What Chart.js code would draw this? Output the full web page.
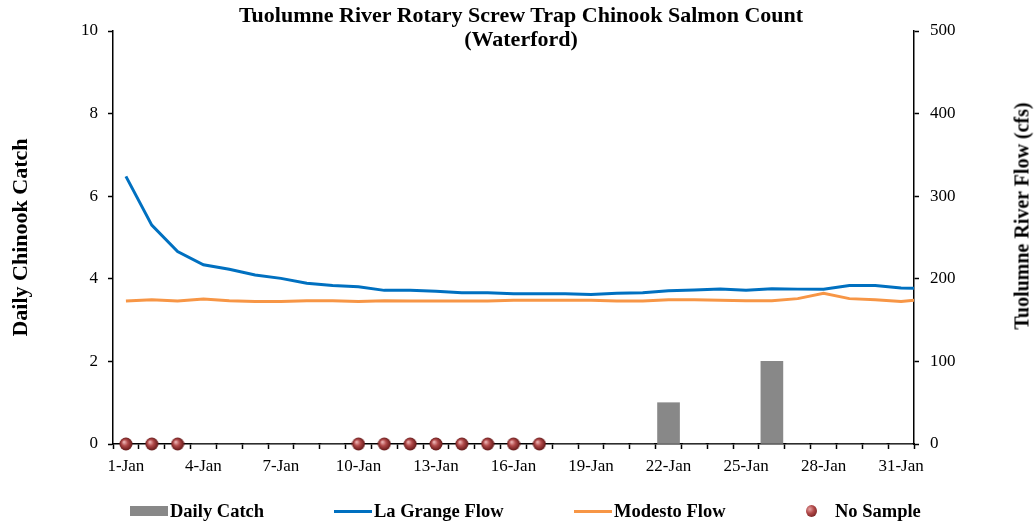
<!DOCTYPE html>
<html>
<head>
<meta charset="utf-8">
<script src="https://cdn.jsdelivr.net/npm/chart.js@4.4.1/dist/chart.umd.min.js"></script>
<style>
  body { margin: 0; background: #fff; }
  #contenedor { position: relative; width: 1036px; height: 522px; font-family: "Liberation Serif", "Times New Roman", serif; color: #000; }
  #titulo { position: absolute; left: 521px; top: 3px; transform: translateX(-50%); text-align: center; font-weight: bold; font-size: 22px; line-height: 24px; white-space: nowrap; }
  #tituloDer { position: absolute; left: 1022px; top: 216px; transform: translate(-50%, -50%) rotate(-90deg); font-weight: bold; font-size: 20px; white-space: nowrap; }
  .ley { position: absolute; top: 501px; height: 20px; display: flex; align-items: center; font-weight: bold; font-size: 18.5px; line-height: 20px; white-space: nowrap; }
  .caja { width: 38px; height: 10px; background: #888; margin-right: 2px; }
  .linea { width: 38px; height: 3px; margin-right: 2px; }
  .punto { width: 11px; height: 12px; border-radius: 50%; margin-right: 18px;
           background: radial-gradient(circle at 35% 35%, #e6a3a3 0%, #b04848 40%, #5c1414 100%); }
</style>
</head>
<body>
<div id="contenedor">
  <canvas id="graficaSalmon" width="1036" height="522"></canvas>
  <div id="titulo">Tuolumne River Rotary Screw Trap Chinook Salmon Count<br>(Waterford)</div>
  <div id="tituloDer">Tuolumne River Flow (cfs)</div>
  <div class="ley" style="left:130px"><span class="caja"></span>Daily Catch</div>
  <div class="ley" style="left:334px"><span class="linea" style="background:#0070C0"></span>La Grange Flow</div>
  <div class="ley" style="left:574px"><span class="linea" style="background:#F79646"></span>Modesto Flow</div>
  <div class="ley" style="left:806px"><span class="punto"></span>No Sample</div>
</div>
<script>
// Fechas del eje (categorias)
const fechas = ['1-Jan','2-Jan','3-Jan','4-Jan','5-Jan','6-Jan','7-Jan','8-Jan','9-Jan','10-Jan',
  '11-Jan','12-Jan','13-Jan','14-Jan','15-Jan','16-Jan','17-Jan','18-Jan','19-Jan','20-Jan',
  '21-Jan','22-Jan','23-Jan','24-Jan','25-Jan','26-Jan','27-Jan','28-Jan','29-Jan','30-Jan',
  '31-Jan'];
const etiquetasEje = ['1-Jan','4-Jan','7-Jan','10-Jan','13-Jan','16-Jan','19-Jan','22-Jan','25-Jan','28-Jan','31-Jan'];

// Captura diaria (null = sin muestra)
const capturaDiaria = [null, null, null, 0, 0, 0, 0, 0, 0, null,
  null, null, null, null, null, null, null, 0, 0, 0,
  0, 1, 0, 0, 0, 2, 0, 0, 0, 0, 0];

// Dias sin muestra (marcador en cero)
const sinMuestra = [0, 0, 0, null, null, null, null, null, null, 0,
  0, 0, 0, 0, 0, 0, 0, null, null, null,
  null, null, null, null, null, null, null, null, null, null, null];

// Flujos (cfs), dia 1 a 32 (el 1-Feb queda cortado en el borde derecho)
const flujoLaGrange = [324, 265, 233, 217, 211.5, 204.5, 200.5, 194.5, 192, 190.5,
  186, 186, 185, 183, 183, 182, 182, 182, 181, 182.5,
  183, 185.5, 186.5, 187.5, 186, 188, 187.5, 187.5, 192, 192,
  189, 188];
const flujoModesto = [173, 174.5, 173, 175.5, 173.5, 172.5, 172.5, 173.5, 173.5, 172.5,
  173.5, 173, 173, 173, 173, 174, 174, 174, 174, 173,
  173, 174.5, 174.5, 174, 173.5, 173.5, 176, 182.5, 176, 174.5,
  172.5, 175.5];

const fuente = '"Liberation Serif", "Times New Roman", serif';

// Marcador con sombreado tipo Excel
const marcador = document.createElement('canvas');
marcador.width = 14;
marcador.height = 14;
const mctx = marcador.getContext('2d');
const grad = mctx.createRadialGradient(5, 5, 0.5, 7, 7, 7);
grad.addColorStop(0, '#eab0b0');
grad.addColorStop(0.4, '#b24a4a');
grad.addColorStop(1, '#5a1212');
mctx.fillStyle = grad;
mctx.beginPath();
mctx.arc(7, 7, 6.5, 0, Math.PI * 2);
mctx.fill();

const ejeComun = {
  grid: { drawOnChartArea: false, tickLength: 5, tickColor: '#000', tickWidth: 1.5 },
  border: { color: '#000', width: 1.5 }
};

const porDia = (serie) => serie.map((v, i) => ({ x: i + 1, y: v }));

const ctx = document.getElementById('graficaSalmon').getContext('2d');
const grafica = new Chart(ctx, {
  data: {
    labels: fechas,
    datasets: [
      {
        type: 'line',
        label: 'No Sample',
        data: sinMuestra,
        yAxisID: 'y',
        showLine: false,
        pointStyle: marcador,
        pointRadius: 7,
        clip: false,
        order: 0
      },
      {
        type: 'line',
        label: 'La Grange Flow',
        data: porDia(flujoLaGrange),
        xAxisID: 'xDia',
        yAxisID: 'y1',
        borderColor: '#0070C0',
        borderWidth: 3,
        pointRadius: 0,
        tension: 0,
        order: 1
      },
      {
        type: 'line',
        label: 'Modesto Flow',
        data: porDia(flujoModesto),
        xAxisID: 'xDia',
        yAxisID: 'y1',
        borderColor: '#F79646',
        borderWidth: 3,
        pointRadius: 0,
        tension: 0,
        order: 2
      },
      {
        type: 'bar',
        label: 'Daily Catch',
        data: capturaDiaria,
        xAxisID: 'x',
        yAxisID: 'y',
        backgroundColor: '#888888',
        grouped: false,
        barThickness: 22,
        order: 3
      }
    ]
  },
  options: {
    responsive: false,
    animation: false,
    layout: { padding: { top: 31, bottom: 38, left: 0, right: 0 } },
    plugins: { legend: { display: false }, tooltip: { enabled: false } },
    scales: {
      x: {
        type: 'category',
        offset: true,
        grid: { drawOnChartArea: false, offset: true, tickLength: 5, tickColor: '#000', tickWidth: 1.5 },
        border: { color: '#000', width: 1.5 },
        ticks: {
          autoSkip: false, maxRotation: 0, padding: 7, color: '#000',
          font: { family: fuente, size: 17 },
          callback: (v) => etiquetasEje.includes(fechas[v]) ? fechas[v] : ''
        },
        afterFit: (s) => { s.height = 40; }
      },
      // eje oculto en dias, alineado con las categorias
      xDia: {
        type: 'linear',
        display: false,
        min: 0.5,
        max: fechas.length + 0.5
      },
      y: {
        ...ejeComun,
        position: 'left',
        min: 0, max: 10,
        ticks: { stepSize: 2, padding: 10, color: '#000', font: { family: fuente, size: 17 } },
        title: {
          display: true, text: 'Daily Chinook Catch', color: '#000',
          font: { family: fuente, size: 22, weight: 'bold' },
          padding: { top: 8, bottom: 0 }
        },
        afterFit: (s) => { s.width = 113; }
      },
      y1: {
        ...ejeComun,
        position: 'right',
        min: 0, max: 500,
        ticks: { stepSize: 100, padding: 11, color: '#000', font: { family: fuente, size: 17 } },
        afterFit: (s) => { s.width = 122; }
      }
    }
  }
});
</script>
</body>
</html>
